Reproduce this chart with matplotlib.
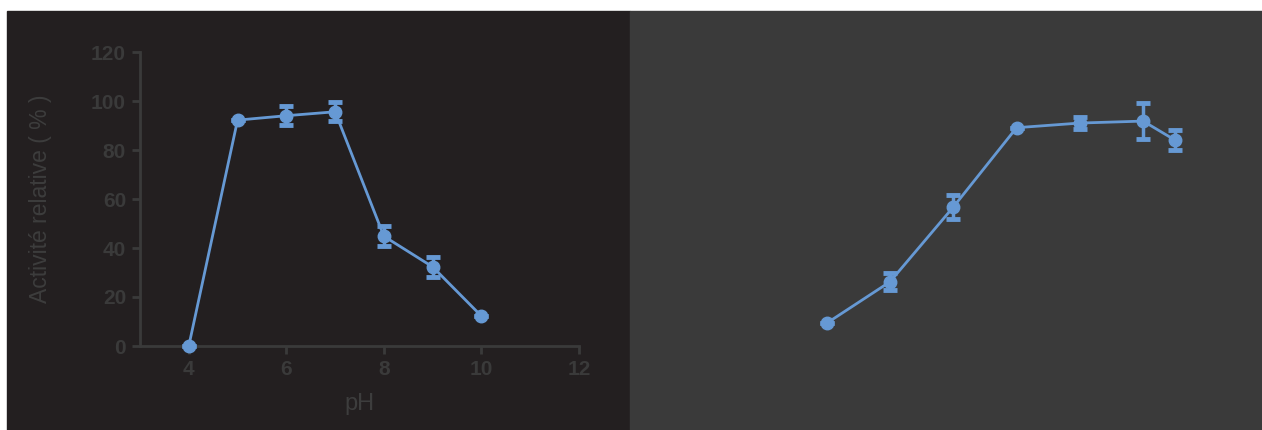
import matplotlib.pyplot as plt
from matplotlib.patches import Rectangle

# pH profile
ph = [4, 5, 6, 7, 8, 9, 10]
ph_activity = [0, 92.2, 94.0, 95.6, 44.8, 32.3, 12.2]
ph_err = [0, 0, 3.9, 3.8, 4.0, 4.0, 0]

# temperature profile (axes drawn in the panel colour, so hidden)
temp = [20, 30, 40, 50, 60, 70, 75]
temp_activity = [9.3, 26.2, 56.7, 89.1, 91.0, 91.8, 84.1]
temp_err = [0, 3.4, 5.0, 0, 2.4, 7.3, 4.0]

BLUE = "#6699d4"
LEFT_BG = "#231f20"
RIGHT_BG = "#3a3a3a"
AXIS = "#3a3a3a"

plt.rcParams["font.family"] = ["Liberation Sans", "DejaVu Sans"]

fig = plt.figure(figsize=(12.62, 4.30), dpi=100)
fig.patch.set_facecolor("white")
fig.add_artist(Rectangle((7 / 1262, 0), 623 / 1262, 419 / 430,
                         transform=fig.transFigure, color=LEFT_BG, zorder=0))
fig.add_artist(Rectangle((630 / 1262, 0), 632 / 1262, 419 / 430,
                         transform=fig.transFigure, color=RIGHT_BG, zorder=0))


def style(ax):
    ax.set_facecolor("none")
    ax.set_ylim(0, 120)
    ax.set_yticks(range(0, 121, 20))
    for s in ("top", "right"):
        ax.spines[s].set_visible(False)
    for s in ("left", "bottom"):
        ax.spines[s].set_color(AXIS)
        ax.spines[s].set_linewidth(2)
    ax.tick_params(colors=AXIS, width=2, length=6, labelsize=15, pad=4)
    for lab in ax.get_xticklabels() + ax.get_yticklabels():
        lab.set_fontweight("bold")


def draw(ax, x, y, e):
    ax.errorbar(x, y, yerr=e, color=BLUE, lw=2, marker="o", ms=9,
                capsize=5, capthick=3.5, elinewidth=2.5, zorder=3,
                clip_on=False)


ax1 = fig.add_axes([140 / 1262, 84 / 430, 439 / 1262, 294 / 430])
ax1.set_xlim(3, 12)
ax1.set_xticks([4, 6, 8, 10, 12])
style(ax1)
draw(ax1, ph, ph_activity, ph_err)
ax1.set_xlabel("pH", color="#3d3d3d", fontsize=17, labelpad=10)
ax1.set_ylabel("Activité relative ( % )", color="#3d3d3d", fontsize=16.5, labelpad=28)

ax2 = fig.add_axes([763.4 / 1262, 84 / 430, 443 / 1262, 294 / 430])
ax2.set_xlim(10, 80)
ax2.set_xticks(range(20, 81, 10))
style(ax2)
draw(ax2, temp, temp_activity, temp_err)

fig.savefig("out.png", dpi=100)
